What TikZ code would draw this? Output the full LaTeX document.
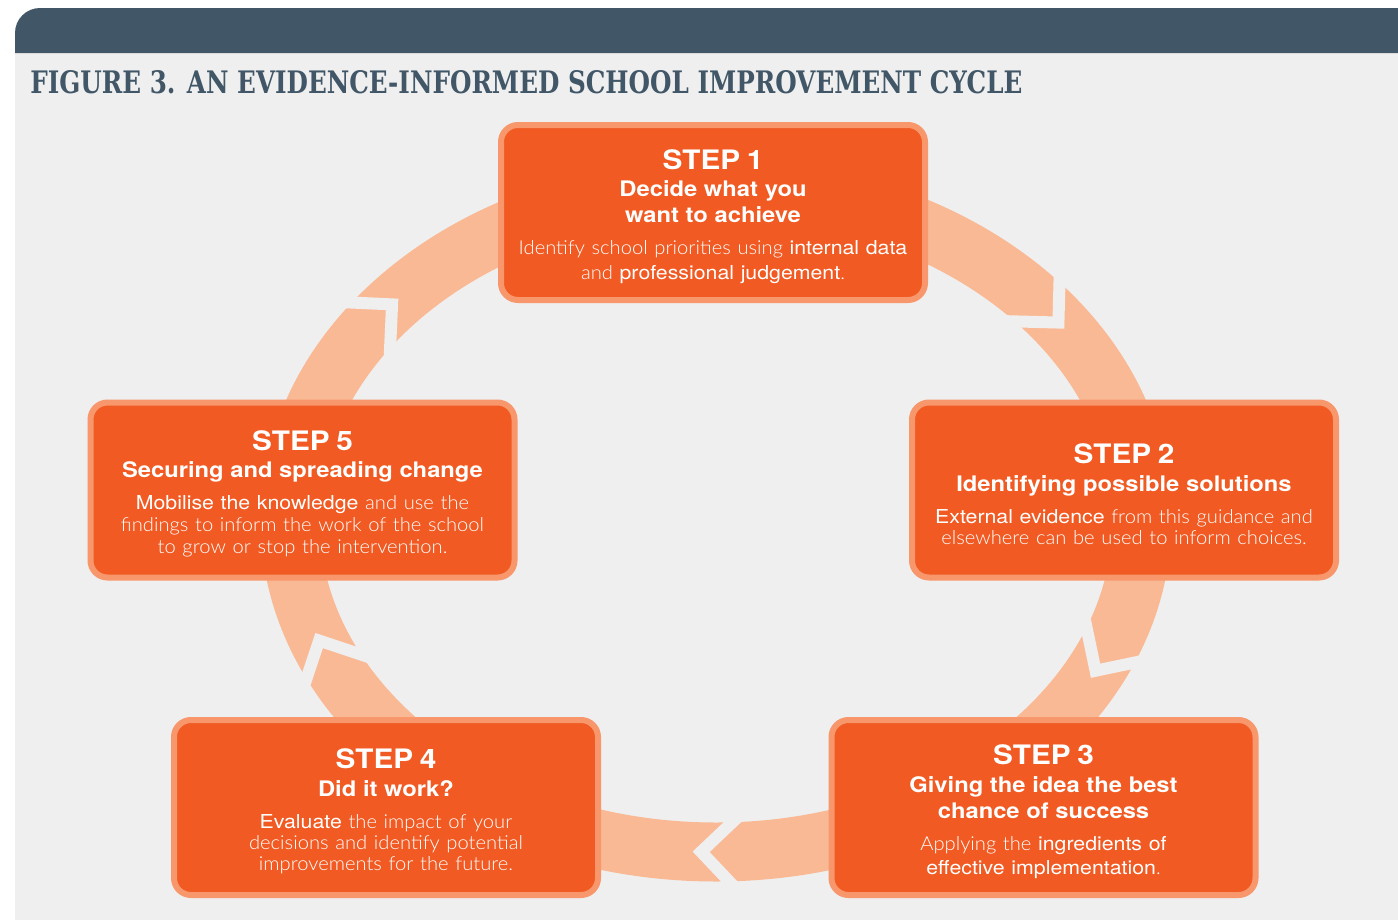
\documentclass[tikz,border=0pt]{standalone}
\usepackage{fontspec}
\setmainfont{TeX Gyre Heros}[FakeStretch=1.11]
\newfontfamily\litefont{Lato Light}[FakeStretch=1.05]
\newfontfamily\slabfont{DejaVu Serif}

\definecolor{headblue}{HTML}{415767}
\definecolor{bggray}{HTML}{EFEFEF}
\definecolor{boxfill}{HTML}{F15A22}
\definecolor{boxline}{HTML}{F7976B}
\definecolor{ringorange}{HTML}{FAB995}

\newcommand\lite[1]{{\litefont #1}}
\newcommand\stephead[1]{{\fontsize{13.4}{14}\selectfont\bfseries #1\par}}
\newcommand\stepsub[1]{\vspace{0.8pt}{\fontsize{10.7}{13}\selectfont\bfseries #1\par}}
\newcommand\stepbody[2][11]{\vspace{\dimexpr 16pt-#1pt\relax}{\fontsize{9.6}{#1}\selectfont #2\par}\kern-4pt}

\tikzset{
  stepbox/.style={draw=boxline, line width=3pt, fill=boxfill, rounded corners=8.5pt,
    minimum width=212pt, minimum height=87.5pt, text width=208pt, align=center,
    text=white, inner sep=0pt, execute at begin node={\hyphenpenalty=10000}},
  ring/.style={draw=ringorange, line width=29.5pt},
  gapline/.style={draw=bggray, line width=6pt, line join=miter},
  figtitle/.style={anchor=base west, inner sep=0pt, text=headblue}
}

\begin{document}
\begin{tikzpicture}[x=0.5pt,y=-0.5pt]
 \useasboundingbox (0,0) rectangle (1398,922);
 \fill[bggray] (15,53) rectangle (1398,920);
 \fill[headblue] (15,53) -- (15,33) arc[start angle=180,end angle=90,radius=12.5pt]
   -- (1398,8) -- (1398,53) -- cycle;
 \node[figtitle] (title) at (30,93)
   {\resizebox{496pt}{11.5pt}{\slabfont\bfseries FIGURE 3. AN EVIDENCE-INFORMED SCHOOL IMPROVEMENT CYCLE}};

 \draw[ring] (716,520) ellipse [x radius=213pt, y radius=166pt];
 \foreach \t in {139.5,36.5,-27,-92,-158.7} {
  \begin{scope}[shift={({716+426*cos(\t)},{520-332*sin(\t)})},
                rotate={atan2(-332*cos(\t),426*sin(\t))}]
   \draw[gapline] (-60,60) -- (0,0) -- (-60,-60);
  \end{scope}
 }

 \node[stepbox] (s1) at (713,212.5) {\stephead{STEP 1}
   \stepsub{Decide what you\\want to achieve}
   \stepbody[12.5]{\lite{Identify school priorities using} internal data\\
     \lite{and} professional judgement\lite{.}}};
 \node[stepbox] (s2) at (1124,490) {\stephead{STEP 2}
   \stepsub{Identifying possible solutions}
   \stepbody[10.5]{External evidence \lite{from this guidance and}\\
     \lite{elsewhere can be used to inform choices.}}};
 \node[stepbox] (s3) at (1043.5,807.5) {\stephead{STEP 3}
   \stepsub{Giving the idea the best\\chance of success}
   \stepbody[12]{\lite{Applying the} ingredients of\\
     effective implementation\lite{.}}};
 \node[stepbox] (s4) at (386,807.5) {\stephead{STEP 4}
   \stepsub{Did it work?}
   \stepbody[10.5]{Evaluate \lite{the impact of your}\\
     \lite{decisions and identify potential}\\
     \lite{improvements for the future.}}};
 \node[stepbox] (s5) at (302.5,490) {\stephead{STEP 5}
   \stepsub{Securing and spreading change}
   \stepbody[11]{Mobilise the knowledge \lite{and use the}\\
     \lite{findings to inform the work of the school}\\
     \lite{to grow or stop the intervention.}}};
\end{tikzpicture}
\end{document}
